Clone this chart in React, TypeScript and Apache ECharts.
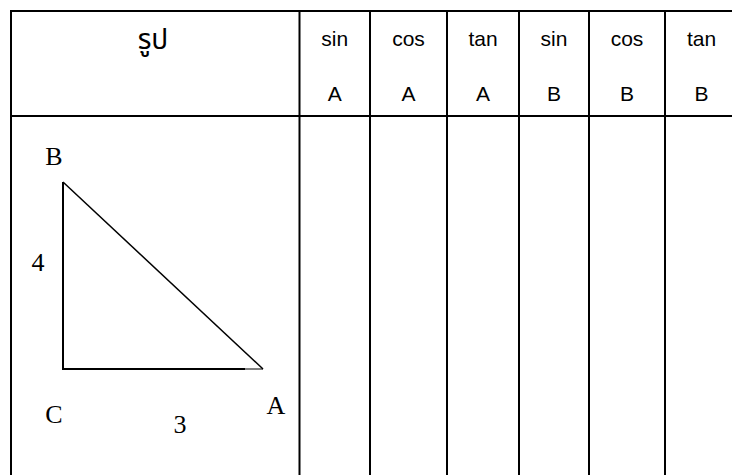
import React, { useEffect, useRef } from "react";
import * as echarts from "echarts";

const headerTitle = "รูป";
const funcNames = ["sin", "cos", "tan", "sin", "cos", "tan"];
const angleNames = ["A", "A", "A", "B", "B", "B"];
const vertexLabels = ["B", "C", "A"];
const sideLabels = ["4", "3"];

export default function App() {
  const ref = useRef<HTMLDivElement>(null);
  useEffect(() => {
    if (!ref.current) return;
    const chart = echarts.init(ref.current, null, { renderer: "svg" });
    const colX = [11, 299.5, 370, 447, 519, 589, 665, 738];
    const topY = 11;
    const headY = 116;
    const bottomY = 480;
    const lineStyle = { stroke: "#000", lineWidth: 2 };
    const els: any[] = [];
    els.push({ type: "line", shape: { x1: colX[0] - 1, y1: topY, x2: 740, y2: topY }, style: lineStyle });
    els.push({ type: "line", shape: { x1: colX[0] - 1, y1: headY, x2: 740, y2: headY }, style: lineStyle });
    colX.forEach((x) => {
      els.push({ type: "line", shape: { x1: x, y1: topY - 1, x2: x, y2: bottomY }, style: lineStyle });
    });
    const sansFont = "'Liberation Sans', Arial, 'Noto Sans Thai', 'Noto Sans', sans-serif";
    els.push({
      type: "text",
      x: 153,
      y: 39,
      style: { text: headerTitle, font: `28px ${sansFont}`, fill: "#000", align: "center", verticalAlign: "middle" },
    });
    funcNames.forEach((f, i) => {
      const cx = (colX[i + 1] + colX[i + 2]) / 2;
      els.push({
        type: "text",
        x: cx,
        y: 38,
        style: { text: f, font: `21px ${sansFont}`, fill: "#000", align: "center", verticalAlign: "middle" },
      });
      els.push({
        type: "text",
        x: cx,
        y: 93,
        style: { text: angleNames[i], font: `21px ${sansFont}`, fill: "#000", align: "center", verticalAlign: "middle" },
      });
    });
    const B = [63, 182];
    const C = [63, 369];
    const A = [263, 369];
    els.push({ type: "polyline", shape: { points: [B, C, [245, C[1]]] }, style: { stroke: "#000", lineWidth: 2, fill: null } });
    els.push({ type: "line", shape: { x1: 245, y1: C[1], x2: A[0], y2: A[1] }, style: { stroke: "#000", lineWidth: 1 } });
    els.push({ type: "line", shape: { x1: B[0], y1: B[1], x2: A[0], y2: A[1] }, style: { stroke: "#000", lineWidth: 1.5 } });
    const serif = "'Liberation Serif', 'Times New Roman', serif";
    const labelPos = [
      [54, 156],
      [54, 414],
      [276, 405],
    ];
    vertexLabels.forEach((t, i) => {
      els.push({
        type: "text",
        x: labelPos[i][0],
        y: labelPos[i][1],
        style: { text: t, font: `26px ${serif}`, fill: "#000", align: "center", verticalAlign: "middle" },
      });
    });
    const sidePos = [
      [38, 262],
      [180, 424],
    ];
    sideLabels.forEach((t, i) => {
      els.push({
        type: "text",
        x: sidePos[i][0],
        y: sidePos[i][1],
        style: { text: t, font: `26px ${serif}`, fill: "#000", align: "center", verticalAlign: "middle" },
      });
    });
    chart.setOption({ animation: false, backgroundColor: "#fff", graphic: { elements: els } });
    return () => chart.dispose();
  }, []);
  return (
    <div style={{ position: "fixed", left: 0, top: 0, width: 732, height: 475, background: "#fff" }}>
      <div ref={ref} style={{ width: 732, height: 475 }} />
    </div>
  );
}
